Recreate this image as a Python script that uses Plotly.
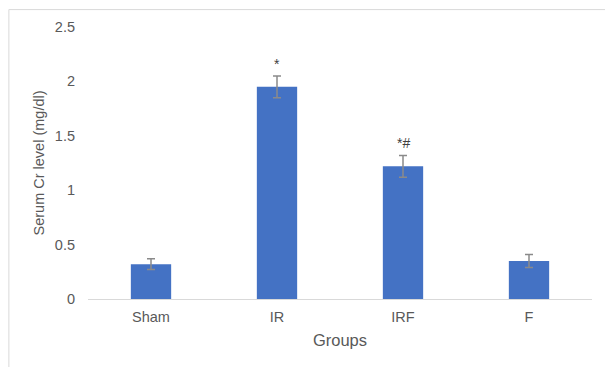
import plotly.graph_objects as go

# Serum creatinine by group (mean ± error)
groups = ["Sham", "IR", "IRF", "F"]
serum_cr = [0.32, 1.95, 1.22, 0.35]
serum_cr_err = [0.05, 0.10, 0.10, 0.06]
sig_labels = ["", "*", "*#", ""]

y_ticks = [0, 0.5, 1, 1.5, 2, 2.5]
y_tick_text = ["0", "0.5", "1", "1.5", "2", "2.5"]

text_color = "#595959"
font_family = "Liberation Sans, Arial, sans-serif"

fig = go.Figure(
    go.Bar(
        x=groups,
        y=serum_cr,
        width=0.32,
        marker=dict(color="#4472C4", line=dict(width=0)),
        error_y=dict(
            type="data",
            array=serum_cr_err,
            visible=True,
            color="#8a8a8a",
            thickness=1.5,
            width=4,
        ),
    )
)

for g, v, e, lab in zip(groups, serum_cr, serum_cr_err, sig_labels):
    if lab:
        fig.add_annotation(
            x=g, y=v + e, text=lab, showarrow=False,
            yanchor="bottom", yshift=2,
            font=dict(size=14, color="#404040", family=font_family),
        )

# light frame around the chart area
fig.add_shape(
    type="rect", xref="paper", yref="paper",
    x0=-0.157, x1=1.2, y0=-0.5, y1=1.064,
    line=dict(color="#d9d9d9", width=1), fillcolor="rgba(0,0,0,0)",
    layer="below",
)

fig.update_layout(
    width=605, height=367,
    margin=dict(l=88, r=13, t=27, b=68),
    paper_bgcolor="white", plot_bgcolor="white",
    showlegend=False,
    font=dict(family=font_family, color=text_color, size=14),
    xaxis=dict(
        showline=True, linecolor="#d9d9d9", linewidth=1,
        showgrid=False, ticks="", ticklabelstandoff=5,
        tickfont=dict(size=14.5, color=text_color),
        title=dict(text="Groups", font=dict(size=16.5, color=text_color), standoff=10),
    ),
    yaxis=dict(
        range=[0, 2.5], tickvals=y_ticks, ticktext=y_tick_text,
        showline=False, showgrid=False, zeroline=False, ticks="",
        ticklabelstandoff=12,
        tickfont=dict(size=14.5, color=text_color),
        title=dict(text="Serum Cr level (mg/dl)", font=dict(size=14.5, color=text_color), standoff=6),
    ),
)

fig.write_html("out.html")
